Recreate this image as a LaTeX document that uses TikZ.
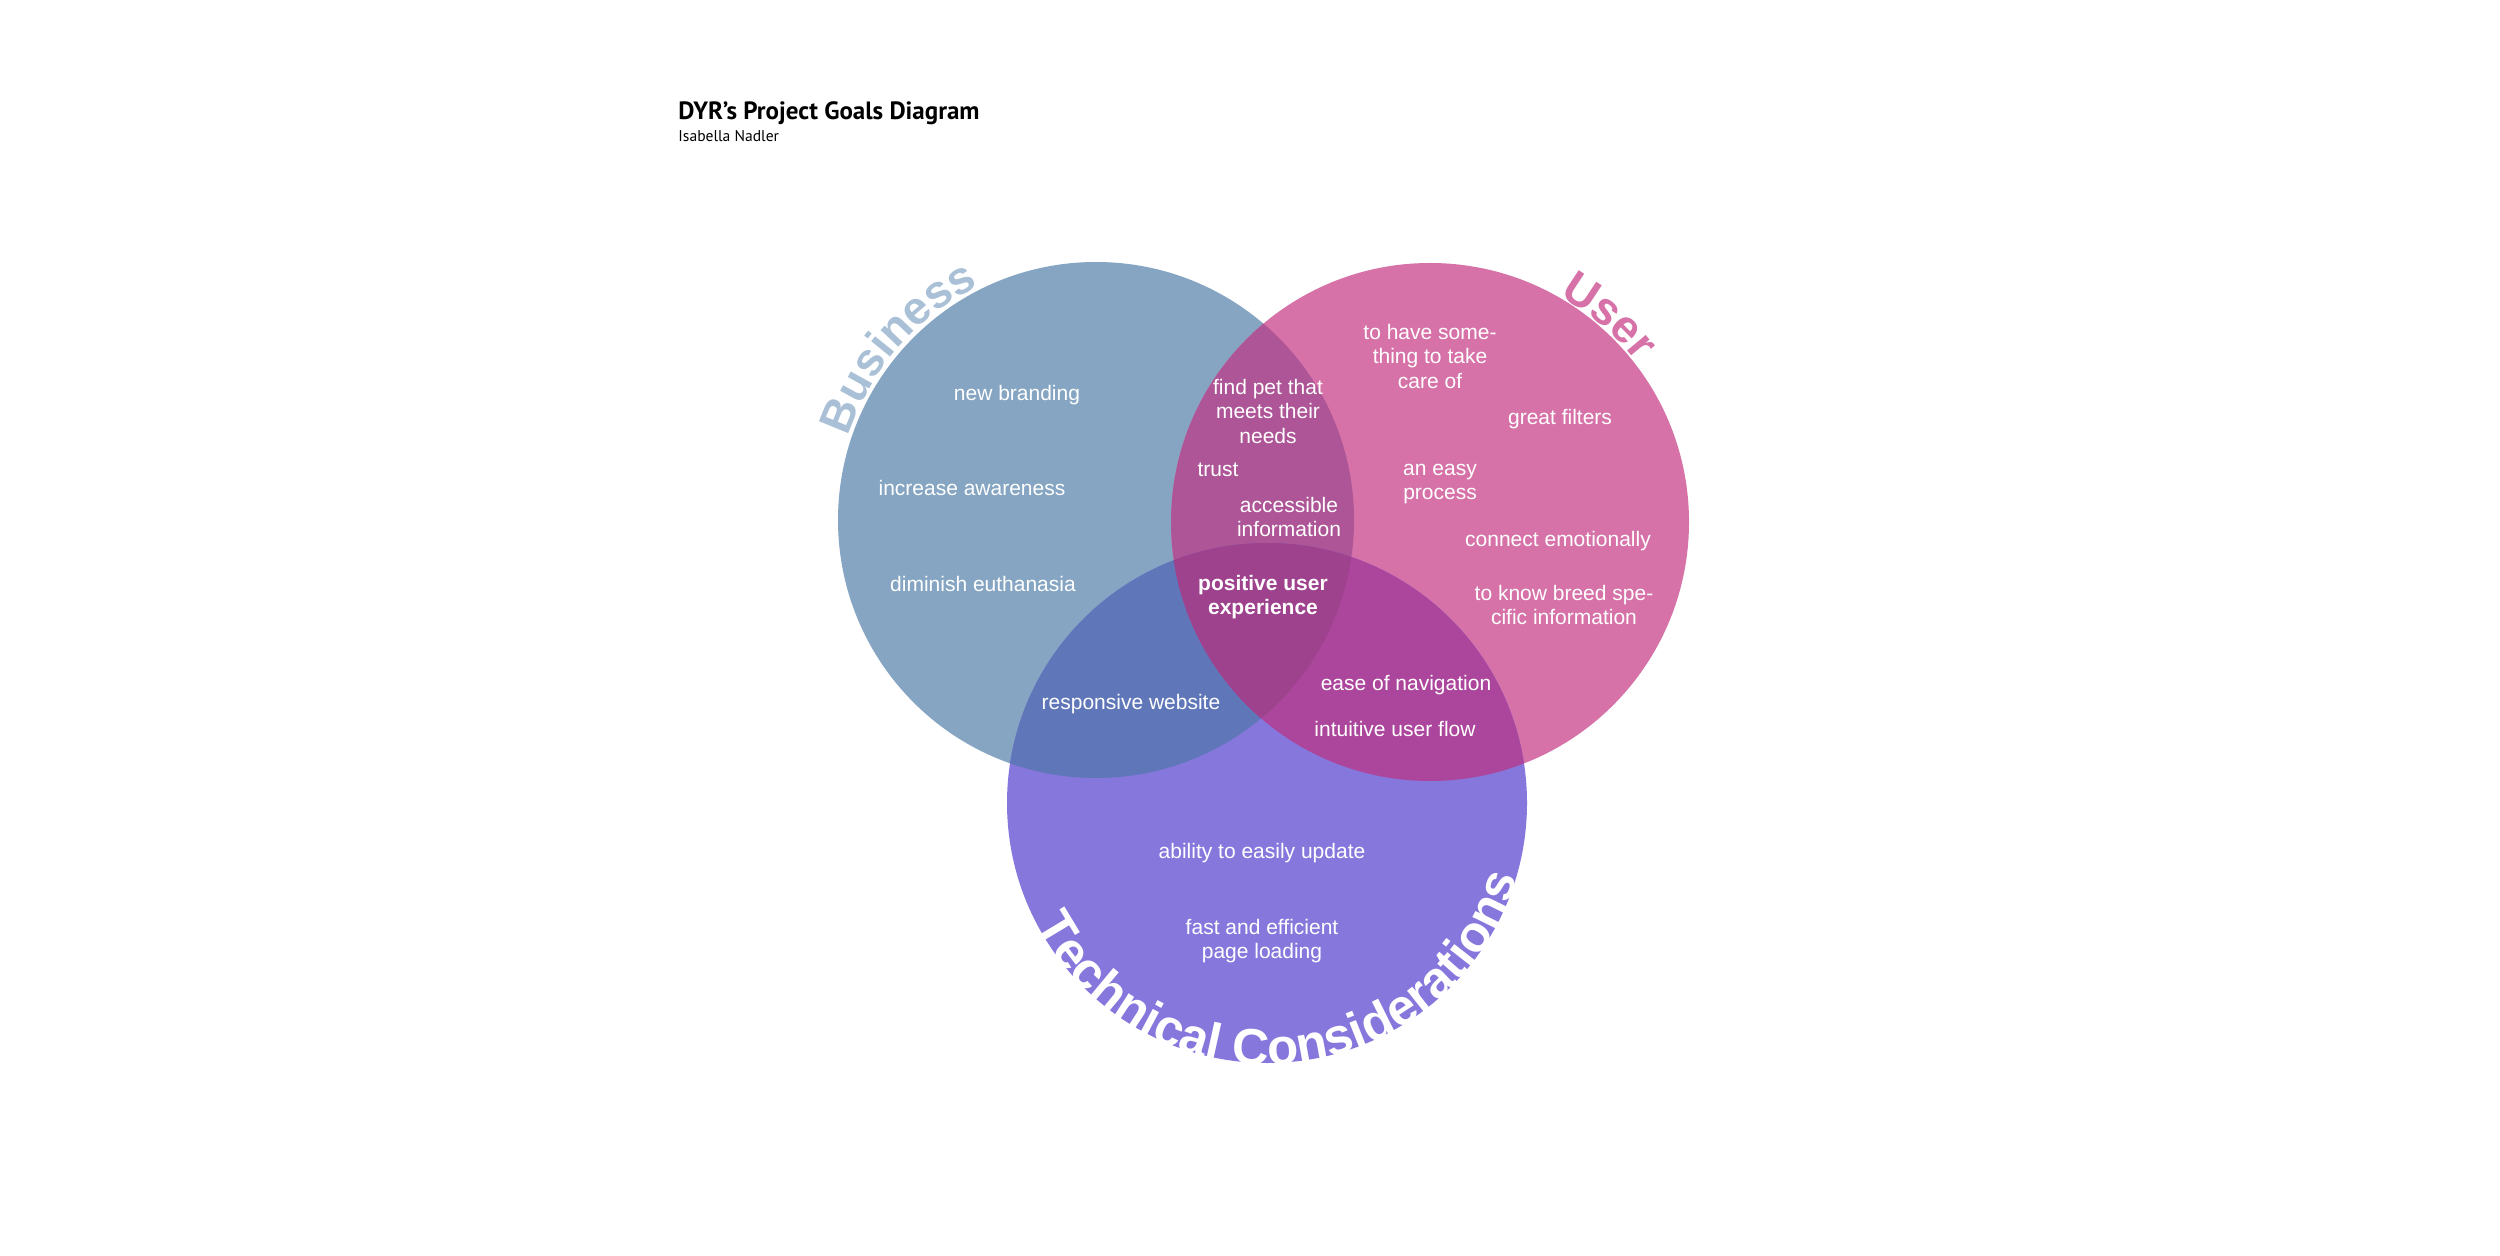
\documentclass[tikz,border=0pt]{standalone}
\usepackage{fontspec}
\setmainfont{Liberation Sans}
\newfontfamily\ttlfont{PT Sans}
\usetikzlibrary{decorations.text}
\definecolor{biz}{HTML}{85A5C2}
\definecolor{usr}{HTML}{D672A8}
\definecolor{tec}{HTML}{8677DD}
\definecolor{bizusr}{HTML}{AD5596}
\definecolor{biztec}{HTML}{5F76B8}
\definecolor{usrtec}{HTML}{AC459C}
\definecolor{alltri}{HTML}{9E428E}
\definecolor{bizlbl}{HTML}{A9C0D6}
\begin{document}
\begin{tikzpicture}[x=0.5pt,y=0.5pt,
  goal/.style={text=white, font=\fontsize{10.5}{12.25}\selectfont, align=center, inner sep=0pt},
  arclbl/.style={decorate}]
\useasboundingbox (0,0) rectangle (2500,-1256);
\fill[white] (0,0) rectangle (2500,-1256);

\coordinate (B) at (1096,-520);
\coordinate (U) at (1430,-522);
\coordinate (T) at (1267,-803);

\fill[biz] (B) circle (258);
\fill[usr] (U) circle (259);
\fill[tec] (T) circle (260);
\begin{scope}\clip (B) circle (258); \fill[bizusr] (U) circle (259); \end{scope}
\begin{scope}\clip (B) circle (258); \fill[biztec] (T) circle (260); \end{scope}
\begin{scope}\clip (U) circle (259); \fill[usrtec] (T) circle (260); \end{scope}
\begin{scope}\clip (B) circle (258); \clip (U) circle (259); \fill[alltri] (T) circle (260); \end{scope}

% circle labels
\path[arclbl, decoration={text along path, text align=center,
  text={|\color{bizlbl}\bfseries\fontsize{23}{23}\selectfont|Business}}]
  (B) ++(200:262) arc[start angle=200, end angle=78, radius=262];
\path[arclbl, decoration={text along path, text align=center,
  text={|\color{usr}\bfseries\fontsize{23}{23}\selectfont|User}}]
  (U) ++(110:261) arc[start angle=110, end angle=-12, radius=261];
\path[arclbl, decoration={text along path, text align=center,
  text={|\color{white}\bfseries\fontsize{25.5}{25.5}\selectfont|Technical Considerations}}]
  (T) ++(185:262) arc[start angle=185, end angle=366, radius=262];

% title
\node[anchor=base west, inner sep=0pt, font=\ttlfont\bfseries\fontsize{12.5}{14}\selectfont] (title) at (678,-120) {DYR’s Project Goals Diagram};
\node[anchor=base west, inner sep=0pt, font=\ttlfont\fontsize{7.8}{9}\selectfont] (author) at (678,-142) {Isabella Nadler};

% business
\node[goal] (g1) at (1017,-395) {new branding};
\node[goal] (g2) at (972,-488) {increase awareness};
\node[goal] (g3) at (983,-584) {diminish euthanasia};
% business & user
\node[goal] (g4) at (1268,-411) {find pet that\\meets their\\needs};
\node[goal] (g5) at (1218,-470) {trust};
\node[goal] (g6) at (1289,-517) {accessible\\information};
% user
\node[goal] (g7) at (1430,-356) {to have some-\\thing to take\\care of};
\node[goal] (g8) at (1560,-419) {great filters};
\node[goal] (g9) at (1440,-484) {an easy\\process};
\node[goal] (g10) at (1558,-541) {connect emotionally};
\node[goal] (g11) at (1564,-605) {to know breed spe-\\cific information};
% all three
\node[goal, font=\bfseries\fontsize{10.5}{12.25}\selectfont] (g12) at (1263,-597) {positive user\\experience};
% business & technical
\node[goal] (g13) at (1131,-704) {responsive website};
% user & technical
\node[goal] (g14) at (1406,-685) {ease of navigation};
\node[goal] (g15) at (1395,-729) {intuitive user flow};
% technical
\node[goal] (g16) at (1262,-853) {ability to easily update};
\node[goal] (g17) at (1262,-941) {fast and efficient\\page loading};
\end{tikzpicture}
\end{document}
